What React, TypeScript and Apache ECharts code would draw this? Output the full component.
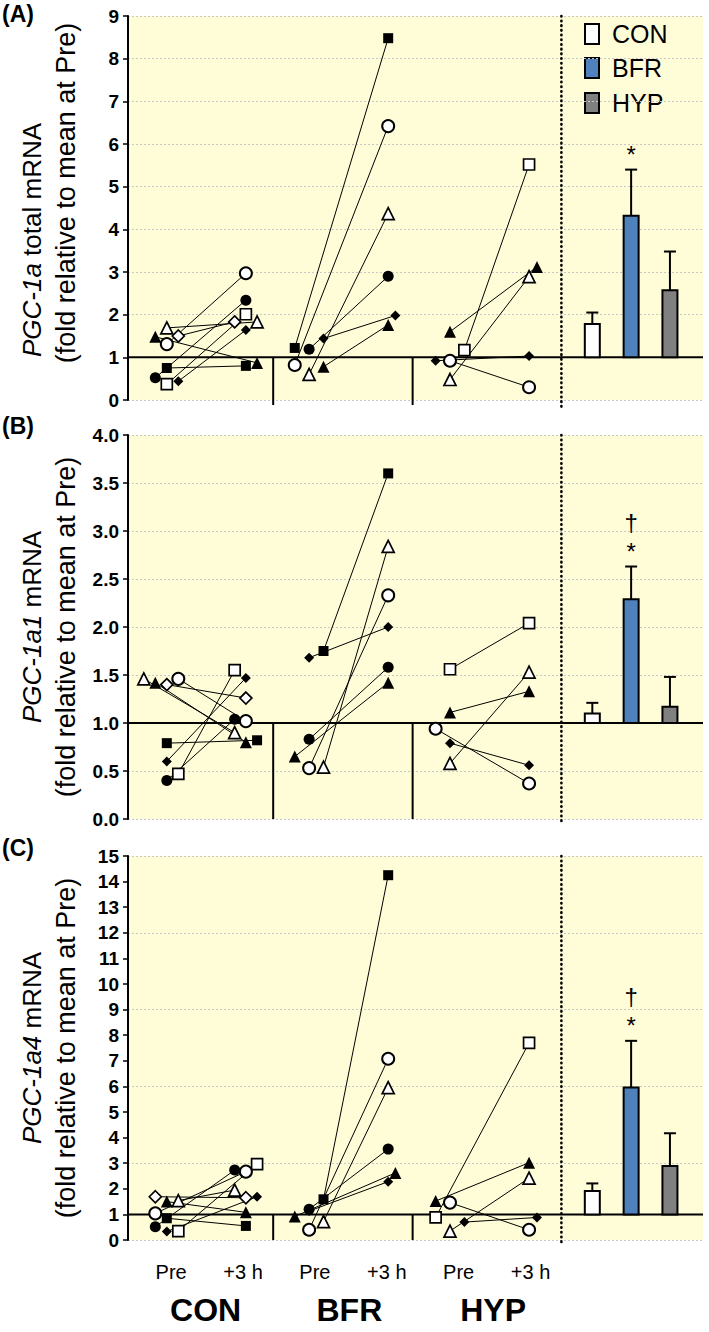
import React, { useEffect, useRef } from "react";
import * as echarts from "echarts";

const FONT = "'Liberation Sans', Arial, Helvetica, sans-serif";

const groups = ["CON", "BFR", "HYP"];
const timeLabels = ["Pre", "+3 h"];
const panelLetters = ["(A)", "(B)", "(C)"];
const titleGene = ["PGC-1a", "PGC-1a1", "PGC-1a4"];
const titleRest = [" total mRNA", " mRNA", " mRNA"];
const titleLine2 = "(fold relative to mean at Pre)";
const legendLabels = ["CON", "BFR", "HYP"];

const yMax = [9, 4, 15];
const yTickStep = [1, 0.5, 1];
const yGridStep = [1, 0.5, 3];

// subject symbols per group
const conSymbols = ["sqF", "sqO", "ciF", "ciO", "trF", "trO", "diF", "diO"];
const bfrSymbols = ["sqF", "ciO", "trO", "ciF", "diF", "trF"];
const hypSymbols = ["sqO", "trF", "trO", "diF", "ciO"];

// ---- Panel A : PGC-1a total mRNA ----
const aConPre = [0.75, 0.37, 0.52, 1.31, 1.48, 1.69, 0.44, 1.5];
const aConPost = [0.8, 2.01, 2.34, 2.97, 0.87, 1.83, 1.64, 1.83];
const aBfrPre = [1.22, 0.82, 0.6, 1.19, 1.44, 0.78];
const aBfrPost = [8.48, 6.42, 4.37, 2.9, 1.98, 1.76];
const aHypPre = [1.17, 1.6, 0.48, 0.92, 0.92];
const aHypPost = [5.52, 3.12, 2.89, 1.03, 0.3];

// ---- Panel B : PGC-1a1 mRNA ----
const bConPre = [0.79, 0.47, 0.4, 1.46, 1.42, 1.46, 0.6, 1.4];
const bConPost = [0.82, 1.55, 1.04, 1.02, 0.8, 0.9, 1.47, 1.26];
const bBfrPre = [1.75, 0.53, 0.54, 0.83, 1.68, 0.65];
const bBfrPost = [3.6, 2.33, 2.84, 1.58, 2.0, 1.42];
const bHypPre = [1.56, 1.11, 0.58, 0.79, 0.94];
const bHypPost = [2.04, 1.33, 1.53, 0.56, 0.37];

// ---- Panel C : PGC-1a4 mRNA ----
const cConPre = [0.85, 0.35, 0.52, 1.04, 1.5, 1.54, 0.33, 1.69];
const cConPost = [0.55, 2.96, 2.73, 2.67, 1.08, 1.95, 1.69, 1.65];
const cBfrPre = [1.59, 0.4, 0.72, 1.2, 1.13, 0.92];
const cBfrPost = [14.25, 7.08, 5.95, 3.55, 2.28, 2.62];
const cHypPre = [0.88, 1.52, 0.35, 0.7, 1.46];
const cHypPost = [7.7, 3.02, 2.42, 0.88, 0.4];

// horizontal jitter slots (to avoid overlapping markers)
const aConPreSlot = [0, 0, -1, 0, -1, 0, 1, 1];
const aConPostSlot = [0, 0, 0, 0, 1, 1, 0, -1];
const aBfrPreSlot = [-1, -1, 0, 0, 1, 1];
const aBfrPostSlot = [0, 0, 0, 0, 1, 0];
const aHypPreSlot = [1, 0, 0, -1, 0];
const aHypPostSlot = [0, 1, 0, 0, 0];
const bConPreSlot = [0, 1, 0, 1, -1, -2, 0, 0];
const bConPostSlot = [1, -1, -1, 0, 0, -1, 0, 0];
const bBfrPreSlot = [1, 0, 1, 0, 0, -1];
const bBfrPostSlot = [0, 0, 0, 0, 0, 0];
const bHypPreSlot = [0, 0, 0, 0, -1];
const bHypPostSlot = [0, 0, 0, 0, 0];
const cConPreSlot = [0, 1, -1, -1, 0, 1, 0, -1];
const cConPostSlot = [0, 1, -1, 0, 0, -1, 1, 0];
const cBfrPreSlot = [1, 0, 1, 0, 0, -1];
const cBfrPostSlot = [0, 0, 0, 0, 0, 1];
const cHypPreSlot = [-1, -1, 0, 1, 0];
const cHypPostSlot = [0, 0, 0, 1, 0];

// group means (bars) and SE
const barMeansA = [1.78, 4.32, 2.57];
const barErrA = [0.27, 1.08, 0.91];
const barMeansB = [1.1, 2.29, 1.17];
const barErrB = [0.11, 0.34, 0.31];
const barMeansC = [1.91, 5.96, 2.89];
const barErrC = [0.3, 1.82, 1.28];
const starA = ["", "*", ""];
const daggerA = ["", "", ""];
const starB = ["", "*", ""];
const daggerB = ["", "†", ""];
const starC = ["", "*", ""];
const daggerC = ["", "†", ""];

const barColors = ["#ffffff", "#4f81bd", "#808080"];
const bgColor = "#fffdd8";

const preCenter = [0.27, 1.26, 2.24];
const postCenter = [0.82, 1.81, 2.79];
const preStep = [0.08, 0.1, 0.1];
const postStep = [0.078, 0.05, 0.055];
const barX = [3.23, 3.5, 3.77];
const separatorX = [1.01, 1.98];
const dividerX = 3.015;
const timeLabelX = [0.3, 0.8];
const groupLabelX = 0.54;

const symbolStyles: Record<string, any> = {
  sqF: { shape: "rect", size: 10, fill: "#000", border: 0 },
  sqO: { shape: "rect", size: 11, fill: "#fff", border: 1.7 },
  ciF: { shape: "circle", size: 11, fill: "#000", border: 0 },
  ciO: { shape: "circle", size: 12, fill: "#fff", border: 2 },
  trF: { shape: "triangle", size: 12, fill: "#000", border: 0 },
  trO: { shape: "triangle", size: 12, fill: "#fff", border: 1.7 },
  diF: { shape: "diamond", size: 10, fill: "#000", border: 0 },
  diO: { shape: "diamond", size: 12, fill: "#fff", border: 1.7 },
};

const panelData = [
  [
    [aConPre, aConPost, aConPreSlot, aConPostSlot],
    [aBfrPre, aBfrPost, aBfrPreSlot, aBfrPostSlot],
    [aHypPre, aHypPost, aHypPreSlot, aHypPostSlot],
  ],
  [
    [bConPre, bConPost, bConPreSlot, bConPostSlot],
    [bBfrPre, bBfrPost, bBfrPreSlot, bBfrPostSlot],
    [bHypPre, bHypPost, bHypPreSlot, bHypPostSlot],
  ],
  [
    [cConPre, cConPost, cConPreSlot, cConPostSlot],
    [cBfrPre, cBfrPost, cBfrPreSlot, cBfrPostSlot],
    [cHypPre, cHypPost, cHypPreSlot, cHypPostSlot],
  ],
];
const groupSymbols = [conSymbols, bfrSymbols, hypSymbols];
const barMeans = [barMeansA, barMeansB, barMeansC];
const barErrs = [barErrA, barErrB, barErrC];
const stars = [starA, starB, starC];
const daggers = [daggerA, daggerB, daggerC];

const gridTops = [16, 435, 856];
const gridHeight = 384;
const sepExtend = [5, 0, 0];
const letterY = [14, 426, 848];
const title1Y = [240, 627, 1048];
const title2Y = [193, 627, 1048];

function decoRender(p: number) {
  return (_params: any, api: any) => {
    const l = api.coord([0, 1]);
    const r = api.coord([4, 1]);
    const bottom = api.coord([0, 0])[1];
    const top = api.coord([0, yMax[p]])[1];
    const children: any[] = [];
    separatorX.forEach((sx) => {
      const c = api.coord([sx, 1]);
      children.push({
        type: "line",
        shape: { x1: c[0], y1: c[1], x2: c[0], y2: bottom + sepExtend[p] },
        style: { stroke: "#000", lineWidth: 2 },
      });
    });
    const d = api.coord([dividerX, yMax[p]]);
    children.push({
      type: "line",
      shape: { x1: d[0], y1: top, x2: d[0], y2: bottom + sepExtend[p] + 4 },
      style: { stroke: "#000", lineWidth: 2.6, lineDash: [0.5, 4.2], lineCap: "round" },
    });
    children.push({
      type: "line",
      shape: { x1: l[0], y1: l[1], x2: r[0], y2: r[1] },
      style: { stroke: "#000", lineWidth: 2 },
    });
    return { type: "group", children };
  };
}

function barRender(g: number, p: number) {
  return (_params: any, api: any) => {
    const x = api.value(0);
    const m = api.value(1);
    const e = api.value(2);
    const top = api.coord([x, m]);
    const base = api.coord([x, 1]);
    const et = api.coord([x, m + e]);
    const w = 15;
    const children: any[] = [
      { type: "line", shape: { x1: top[0], y1: top[1], x2: et[0], y2: et[1] }, style: { stroke: "#000", lineWidth: 2 } },
      { type: "line", shape: { x1: et[0] - 6, y1: et[1], x2: et[0] + 6, y2: et[1] }, style: { stroke: "#000", lineWidth: 2 } },
      {
        type: "rect",
        shape: { x: top[0] - w / 2, y: top[1], width: w, height: base[1] - top[1] },
        style: { fill: barColors[g], stroke: "#000", lineWidth: 2 },
      },
    ];
    if (stars[p][g]) {
      children.push({
        type: "text",
        x: et[0],
        y: et[1] - 15,
        style: { text: stars[p][g], fontSize: 24, fontFamily: FONT, fill: "#000", textAlign: "center", textVerticalAlign: "middle", align: "center", verticalAlign: "middle" },
      });
    }
    if (daggers[p][g]) {
      children.push({
        type: "text",
        x: et[0],
        y: et[1] - 44,
        style: { text: daggers[p][g], fontSize: 24, fontFamily: FONT, fill: "#000", textAlign: "center", textVerticalAlign: "middle", align: "center", verticalAlign: "middle" },
      });
    }
    return { type: "group", children };
  };
}

const bottomLabels: { x: number; text: string; bold: boolean }[] = [];
groups.forEach((gname, g) => {
  timeLabels.forEach((t, ti) => bottomLabels.push({ x: g + timeLabelX[ti], text: t, bold: false }));
  bottomLabels.push({ x: g + groupLabelX, text: gname, bold: true });
});

function buildOption() {
  const grid = gridTops.map((t) => ({
    left: 128,
    right: 6,
    top: t,
    height: gridHeight,
    show: true,
    backgroundColor: bgColor,
    borderWidth: 0,
  }));
  const xAxis = [0, 1, 2].map((p) => ({
    type: "value",
    gridIndex: p,
    min: 0,
    max: 4,
    show: false,
  }));
  const yAxis: any[] = [0, 1, 2].map((p) => ({
    type: "value",
    gridIndex: p,
    min: 0,
    max: yMax[p],
    interval: yTickStep[p],
    axisLine: { show: true, lineStyle: { color: "#000", width: 2 } },
    axisTick: { show: true, inside: false, length: 5, lineStyle: { color: "#000", width: 1.5 } },
    axisLabel: {
      color: "#000",
      fontWeight: "bold",
      fontSize: 19,
      fontFamily: FONT,
      margin: 9,
      formatter: (v: number) => (p === 1 ? v.toFixed(1) : String(v)),
    },
    splitLine: {
      show: p !== 2,
      lineStyle: { color: "#c8c8c8", type: [2, 2], width: 1 },
    },
  }));
  yAxis.push({
    type: "value",
    gridIndex: 2,
    min: 0,
    max: yMax[2],
    interval: yGridStep[2],
    position: "left",
    axisLine: { show: false },
    axisTick: { show: false },
    axisLabel: { show: false },
    splitLine: { show: true, lineStyle: { color: "#c8c8c8", type: [2, 2], width: 1 } },
  });

  const series: any[] = [];
  for (let p = 0; p < 3; p++) {
    series.push({
      type: "custom",
      xAxisIndex: p,
      yAxisIndex: p,
      data: [[0, 0]],
      z: 2,
      silent: true,
      clip: false,
      renderItem: decoRender(p),
    });
    for (let g = 0; g < 3; g++) {
      const [pre, post, preSlot, postSlot] = panelData[p][g];
      const syms = groupSymbols[g];
      for (let i = 0; i < pre.length; i++) {
        const pts = [
          [preCenter[g] + preSlot[i] * preStep[g], pre[i]],
          [postCenter[g] + postSlot[i] * postStep[g], post[i]],
        ];
        series.push({
          type: "line",
          xAxisIndex: p,
          yAxisIndex: p,
          data: pts,
          z: 5,
          silent: true,
          clip: false,
          symbol: "none",
          lineStyle: { color: "#000", width: 1 },
        });
      }
      for (let i = 0; i < pre.length; i++) {
        const st = symbolStyles[syms[i]];
        series.push({
          type: "scatter",
          xAxisIndex: p,
          yAxisIndex: p,
          data: [
            [preCenter[g] + preSlot[i] * preStep[g], pre[i]],
            [postCenter[g] + postSlot[i] * postStep[g], post[i]],
          ],
          z: 6,
          silent: true,
          clip: false,
          symbol: st.shape,
          symbolSize: st.size,
          itemStyle: { color: st.fill, borderColor: "#000", borderWidth: st.border, opacity: 1 },
        });
      }
      series.push({
        type: "custom",
        name: groups[g],
        xAxisIndex: p,
        yAxisIndex: p,
        z: 4,
        silent: true,
        clip: false,
        data: [[barX[g], barMeans[p][g], barErrs[p][g]]],
        renderItem: barRender(g, p),
      });
    }
  }
  series.push({
    type: "custom",
    xAxisIndex: 2,
    yAxisIndex: 2,
    z: 3,
    silent: true,
    clip: false,
    data: bottomLabels.map((b) => [b.x, 0]),
    renderItem: (params: any, api: any) => {
      const b = bottomLabels[params.dataIndex];
      const c = api.coord([api.value(0), 0]);
      return {
        type: "text",
        x: c[0],
        y: c[1] + (b.bold ? 70 : 32),
        style: {
          text: b.text,
          fontSize: b.bold ? 32 : 20,
          fontWeight: b.bold ? "bold" : "normal",
          fontFamily: FONT,
          fill: "#000",
          textAlign: "center",
          textVerticalAlign: "middle",
          align: "center",
          verticalAlign: "middle",
        },
      };
    },
  });

  const graphic: any[] = [];
  for (let p = 0; p < 3; p++) {
    graphic.push({
      type: "text",
      x: 2,
      y: letterY[p],
      style: { text: panelLetters[p], fontSize: 23, fontWeight: "bold", fontFamily: FONT, fill: "#000", textAlign: "left", textVerticalAlign: "middle", align: "left", verticalAlign: "middle" },
    });
    graphic.push({
      type: "text",
      x: 32,
      y: title1Y[p],
      rotation: Math.PI / 2,
      style: {
        text: `{i|${titleGene[p]}}{n|${titleRest[p]}}`,
        rich: {
          i: { fontStyle: "italic", fontSize: 26, fontFamily: FONT, fill: "#000" },
          n: { fontSize: 26, fontFamily: FONT, fill: "#000" },
        },
        fontSize: 26,
        fontFamily: FONT,
        fill: "#000",
        textAlign: "center",
        textVerticalAlign: "middle",
        align: "center",
        verticalAlign: "middle",
      },
    });
    graphic.push({
      type: "text",
      x: 66,
      y: title2Y[p],
      rotation: Math.PI / 2,
      style: { text: titleLine2, fontSize: 27, fontFamily: FONT, fill: "#000", textAlign: "center", textVerticalAlign: "middle", align: "center", verticalAlign: "middle" },
    });
  }
  const legendY = [34, 68, 103];
  legendLabels.forEach((lab, i) => {
    graphic.push({
      type: "rect",
      shape: { x: 585, y: legendY[i] - 10, width: 14, height: 20 },
      style: { fill: barColors[i], stroke: "#000", lineWidth: 2 },
    });
    graphic.push({
      type: "text",
      x: 612,
      y: legendY[i],
      style: { text: lab, fontSize: 25, fontFamily: FONT, fill: "#000", textAlign: "left", textVerticalAlign: "middle", align: "left", verticalAlign: "middle" },
    });
  });

  return {
    animation: false,
    backgroundColor: "#ffffff",
    textStyle: { fontFamily: FONT },
    grid,
    xAxis,
    yAxis,
    series,
    graphic,
  };
}

export default function App() {
  const ref = useRef<HTMLDivElement>(null);
  useEffect(() => {
    if (!ref.current) return;
    const chart = echarts.init(ref.current, null, { renderer: "svg" });
    chart.setOption(buildOption() as any);
    return () => chart.dispose();
  }, []);
  return (
    <div
      ref={ref}
      style={{ position: "absolute", left: 0, top: 0, width: 709, height: 1332 }}
    />
  );
}
